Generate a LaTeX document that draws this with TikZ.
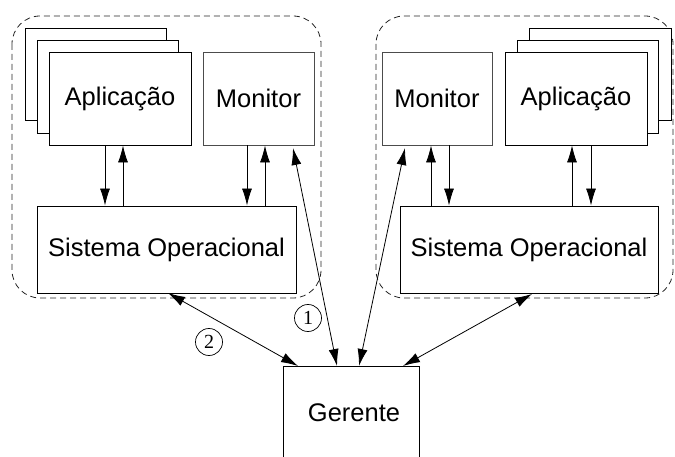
\documentclass[tikz,border=0pt]{standalone}
\usepackage{fontspec}
\setmainfont{Liberation Sans}
\newfontfamily\numfont{Liberation Serif}
\usetikzlibrary{arrows.meta,calc}
\begin{document}
\begin{tikzpicture}[x=1pt,y=-1pt,
  box/.style={draw,line width=0.9pt,fill=white,inner sep=0pt,font=\fontsize{25.5}{30}\selectfont},
  grp/.style={draw=black!85,line width=0.8pt,dash pattern=on 6pt off 4pt,rounded corners=28pt},
  arr/.style={line width=0.8pt,-{Latex[length=17pt,width=10pt]}},
  darr/.style={line width=0.8pt,{Latex[length=17pt,width=10pt]}-{Latex[length=17pt,width=10pt]}},
  num/.style={draw,circle,line width=0.7pt,inner sep=0pt,minimum size=27pt,font=\numfont\fontsize{20}{20}\selectfont}]
\useasboundingbox (0,0) rectangle (675,457);
\clip (0,0) rectangle (675,457);
% groups
\draw[grp] (12,16) rectangle (321,298);
\draw[grp] (376,16) rectangle (673,298);
% left side
\node[box,minimum width=141pt,minimum height=92pt] (appL3) at (95.5,74) {};
\node[box,minimum width=141pt,minimum height=93pt] (appL2) at (107.5,86.5) {};
\node[box,minimum width=142pt,minimum height=93pt] (appL) at (120,98.5) {Aplicação};
\node[box,draw=black!70,minimum width=111pt,minimum height=93pt] (monL) at (258.5,98.5) {Monitor};
\node[box,minimum width=259pt,minimum height=87pt] (soL) at (166.5,249.5) {\raisebox{-5pt}{Sistema Operacional}};
% right side
\node[box,draw=black!70,minimum width=110pt,minimum height=93pt] (monR) at (437,98.5) {Monitor};
\node[box,minimum width=142pt,minimum height=92pt] (appR3) at (600,74) {};
\node[box,minimum width=141pt,minimum height=93pt] (appR2) at (587.5,86.5) {};
\node[box,minimum width=142pt,minimum height=93pt] (appR) at (576,98.5) {Aplicação};
\node[box,minimum width=258pt,minimum height=87pt] (soR) at (529,249.5) {\raisebox{-5pt}{Sistema Operacional}};
% manager
\node[box,minimum width=136pt,minimum height=94pt] (ger) at (351,413) {\hspace*{6pt}Gerente};
% local arrows
\draw[arr] ($(appL.south)+(-15,0)$) -- ($(soL.north)+(-61.5,0)$);
\draw[arr] ($(soL.north)+(-43.5,0)$) -- ($(appL.south)+(3,0)$);
\draw[arr] ($(monL.south)+(-11.5,0)$) -- ($(soL.north)+(80.5,0)$);
\draw[arr] ($(soL.north)+(98.5,0)$) -- ($(monL.south)+(6.5,0)$);
\draw[arr] ($(soR.north)+(-98,0)$) -- ($(monR.south)+(-6,0)$);
\draw[arr] ($(monR.south)+(12,0)$) -- ($(soR.north)+(-80,0)$);
\draw[arr] ($(soR.north)+(43,0)$) -- ($(appR.south)+(-4,0)$);
\draw[arr] ($(appR.south)+(15,0)$) -- ($(soR.north)+(62,0)$);
% manager arrows
\coordinate (m1) at (293,148);
\coordinate (g1) at (337,366);
\coordinate (s2) at (168,293);
\coordinate (g2) at (298,366);
\coordinate (m3) at (405,148);
\coordinate (g3) at (359,366);
\coordinate (s4) at (532,294);
\coordinate (g4) at (403,366);
\draw[darr] (m1) -- (g1);
\draw[darr] (s2) -- (g2);
\draw[darr] (m3) -- (g3);
\draw[darr] (s4) -- (g4);
\node[num] (n1) at (308,318) {1};
\node[num] (n2) at (209,342) {2};
\end{tikzpicture}
\end{document}
